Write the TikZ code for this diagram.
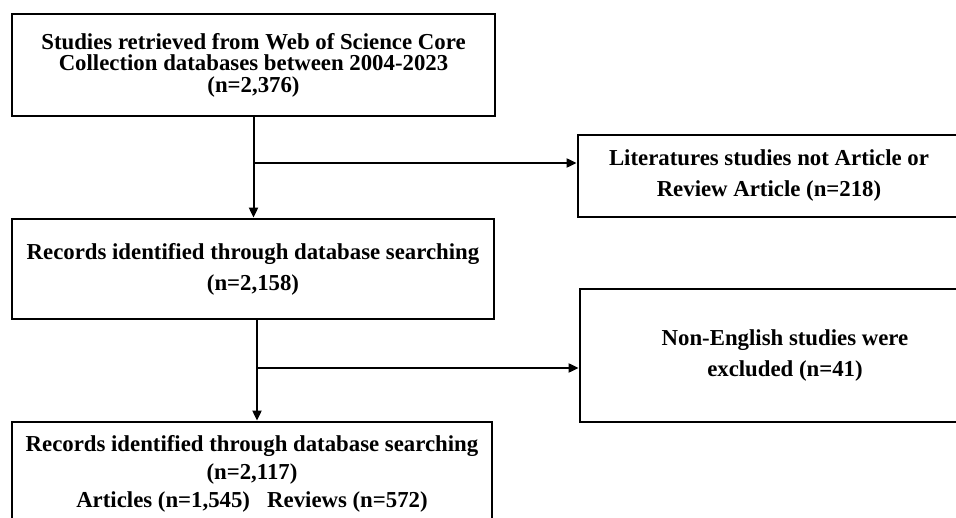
\documentclass[tikz,border=0pt]{standalone}
\usepackage{fontspec}
\setmainfont{Liberation Serif}
\usetikzlibrary{arrows.meta}
\tikzset{
  box/.style={draw,line width=2.8pt,inner sep=0pt,align=center,font=\bfseries\fontsize{22.8}{31}\selectfont},
  tight/.style={font=\bfseries\fontsize{22.8}{21.5}\selectfont},
  flow/.style={line width=2pt,-{Triangle[length=10pt,width=9pt]}}
}

\begin{document}
\begin{tikzpicture}[x=1pt,y=-1pt]
\useasboundingbox (0,0) rectangle (956,518);
\clip (0,0) rectangle (956,518);
\node[box,tight,minimum width=483pt,minimum height=102pt] (b1) at (253.5,65) {Studies retrieved from Web of Science Core\\Collection databases between 2004-2023\\(n=2,376)};
\node[box,minimum width=382pt,minimum height=82pt] (b2) at (769,176) {Literatures studies not Article or\\Review Article (n=218)};
\node[box,minimum width=482pt,minimum height=100pt] (b3) at (253,269) {Records identified through database searching\\(n=2,158)};
\node[box,minimum width=410pt,minimum height=133pt] (b4) at (785,355.5) {Non-English studies were\\excluded (n=41)};
\node[box,minimum width=480pt,minimum height=104pt,font=\bfseries\fontsize{22.8}{28}\selectfont] (b5) at (252,474) {Records identified through database searching\\(n=2,117)\\Articles (n=1,545)~~~Reviews (n=572)};
% exclusion branches
\coordinate (j1) at (253,163);
\coordinate (j2) at (257,368);
\draw[flow] (b1.south) -- (b1.south |- b3.north);
\draw[flow] (j1) -- (j1 -| b2.west);
\draw[flow] (j2 |- b3.south) -- (j2 |- b5.north);
\draw[flow] (j2) -- (j2 -| b4.west);
\end{tikzpicture}
\end{document}
